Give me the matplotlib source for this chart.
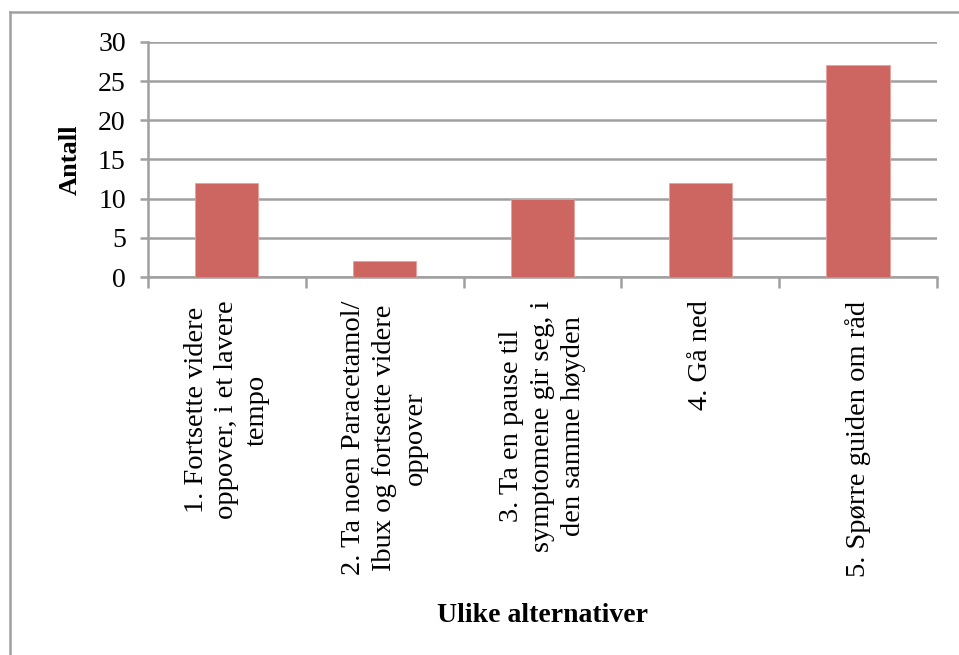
import matplotlib.pyplot as plt
from matplotlib.lines import Line2D

plt.rcParams['font.family'] = ['Liberation Serif', 'DejaVu Serif']

categories = [
    "1. Fortsette videre\noppover, i et lavere\ntempo",
    "2. Ta noen Paracetamol/\nIbux og fortsette videre\noppover",
    "3. Ta en pause til\nsymptomene gir seg, i\nden samme høyden",
    "4. Gå ned",
    "5. Spørre guiden om råd",
]
counts = [12, 2, 10, 12, 27]
yticks = [0, 5, 10, 15, 20, 25, 30]

bar_color = '#CD6660'
grid_color = '#A0A0A0'

fig = plt.figure(figsize=(9.59, 6.55), dpi=100)
ax = fig.add_axes([0.1543, 0.577, 0.8227, 0.359])

x = range(len(counts))
ax.bar(x, counts, width=0.4, color=bar_color, edgecolor='#E8A09A', linewidth=0.6, zorder=3)

ax.set_ylim(0, 30)
ax.set_xlim(-0.5, len(counts) - 0.5)
ax.set_yticks(yticks)
ax.yaxis.grid(True, color=grid_color, linewidth=1.8, zorder=0)
ax.tick_params(axis='y', length=6, width=1.8, color=grid_color, labelsize=20, pad=10)

# category boundaries carry the x tick marks
ax.set_xticks([i - 0.5 for i in range(len(counts) + 1)])
ax.set_xticklabels([])
ax.tick_params(axis='x', length=8, width=1.8, color=grid_color, direction='out')

for s in ['top', 'right']:
    ax.spines[s].set_visible(False)
for s in ['left', 'bottom']:
    ax.spines[s].set_color(grid_color)
    ax.spines[s].set_linewidth(1.8)

for i, label in enumerate(categories):
    ax.text(i, -0.1, label, transform=ax.get_xaxis_transform(), rotation=90,
            ha='center', va='top', multialignment='center', fontsize=20.5,
            linespacing=1.3)

ax.set_ylabel('Antall', fontsize=19, fontweight='bold', labelpad=12)
fig.text(0.566, 0.06, 'Ulike alternativer', ha='center', va='center',
         fontsize=20, fontweight='bold')

# outer chart frame
fig.add_artist(Line2D([0.0104, 1.0], [0.9817, 0.9817], color=grid_color, linewidth=1.8))
fig.add_artist(Line2D([0.0104, 0.0104], [0.0, 0.9817], color=grid_color, linewidth=1.8))

fig.savefig('out.png', dpi=100)
